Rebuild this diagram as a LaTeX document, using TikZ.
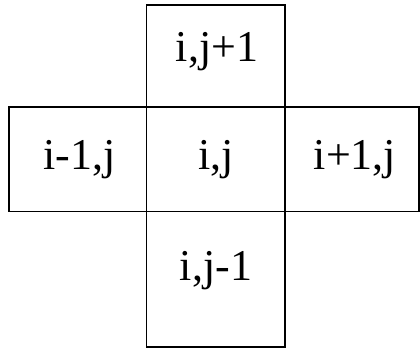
\documentclass[tikz,border=0pt]{standalone}
\usepackage{fontspec}
\setmainfont{Liberation Serif}
\begin{document}
\begin{tikzpicture}[x=1pt,y=-1pt,
  cell/.style={draw=black,line width=1.6pt},
  lbl/.style={anchor=base,inner sep=0pt,font=\fontsize{44}{44}\selectfont}]
\useasboundingbox (0,0) rectangle (420,351);
\draw[cell] (146.5,5) rectangle (285,107);
\draw[cell] (9,107) rectangle (146.5,211.5);
\draw[cell] (146.5,107) rectangle (285,211.5);
\draw[cell] (285,107) rectangle (419,211.5);
\draw[cell] (146.5,211.5) rectangle (285,347);
\node[lbl] (top) at (217,61) {i,j+1};
\node[lbl] (left) at (79.5,169) {i-1,j};
\node[lbl] (mid) at (216,169) {i,j};
\node[lbl] (right) at (355,169) {i+1,j};
\node[lbl] (bot) at (216,280) {i,j-1};
\end{tikzpicture}
\end{document}
